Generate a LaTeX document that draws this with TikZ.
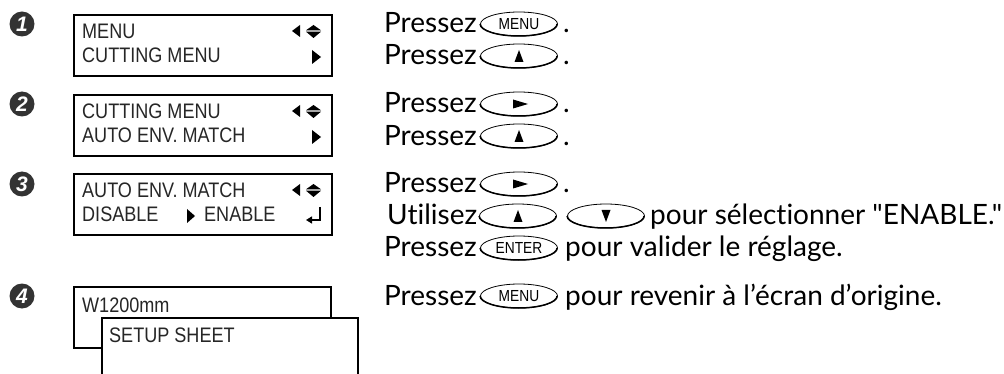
\documentclass[tikz,border=0pt]{standalone}
\usepackage{fontspec}
\newfontfamily\txtfont{Lato}[Ligatures={NoCommon}]
\newfontfamily\lcdfont[FakeStretch=0.86]{Liberation Sans}
\newfontfamily\numfont{Liberation Sans}
\usetikzlibrary{shapes.geometric, arrows.meta, positioning}

\begin{document}
\begin{tikzpicture}[
  x=1pt, y=1pt,
  lcd/.style={rectangle, draw, line width=2.2pt, fill=white, anchor=north west, minimum width=258pt, minimum height=61pt, inner sep=0pt},
  lcdtext/.style={anchor=base west, inner sep=0pt, text=black!85, font=\lcdfont\fontsize{21}{21}\selectfont},
  key/.style={ellipse, draw, line width=0.8pt, minimum width=77pt, minimum height=24pt, inner sep=0pt, font=\lcdfont\fontsize{16}{16}\selectfont},
  stepnum/.style={circle, fill=black!80, text=white, minimum size=25pt, inner sep=0pt, font=\numfont\bfseries\itshape\fontsize{21}{21}\selectfont},
  txt/.style={anchor=base west, inner sep=0pt, font=\txtfont\fontsize{28}{30}\selectfont},
  word/.style={txt, anchor=base east}
]
  \useasboundingbox (0,0) rectangle (1004,-374);

  % step numbers
  \node[stepnum] (n1) at (22,-24) {1};
  \node[stepnum] (n2) at (22,-104) {2};
  \node[stepnum] (n3) at (22,-184) {3};
  \node[stepnum] (n4) at (22,-296) {4};

  % display screens
  \node[lcd] (lcd1) at (73,-14) {};
  \node[lcdtext] (l1a) at (82,-39) {MENU};
  \node[lcdtext] (l1b) at (82,-63) {CUTTING MENU};
  \node[lcd] (lcd2) at (73,-94) {};
  \node[lcdtext] (l2a) at (82,-119) {CUTTING MENU};
  \node[lcdtext] (l2b) at (82,-143) {AUTO ENV. MATCH};
  \node[lcd] (lcd3) at (73,-173) {};
  \node[lcdtext] (l3a) at (82,-198) {AUTO ENV. MATCH};
  \node[lcdtext] (l3b) at (82,-222) {DISABLE};
  \node[lcdtext] (l3c) at (204,-222) {ENABLE};
  \node[lcd, minimum width=257pt] (lcd4) at (73,-286) {};
  \node[lcdtext] (l4a) at (82,-312) {W1200mm};
  \fill[white] (102,-318) rectangle (358,-374);
  \draw[line width=2.2pt] (102,-374) |- (358,-318) -- (358,-374);
  \node[lcdtext] (l4b) at (109,-342) {SETUP SHEET};

  % screen marks
  \foreach \t in {14,94,173} {
    \fill (292,-\t-17) -- (300,-\t-11) -- (300,-\t-23) -- cycle;
    \fill (313.5,-\t-11) -- (321,-\t-16.3) -- (306,-\t-16.3) -- cycle;
    \fill (306,-\t-17.7) -- (321,-\t-17.7) -- (313.5,-\t-24) -- cycle;
  }
  \foreach \t in {14,94}
    \fill (312,-\t-36) -- (321,-\t-43) -- (312,-\t-50) -- cycle;
  \fill (187,-209) -- (195,-216) -- (187,-223) -- cycle;
  \draw[line width=1.3pt, -{Triangle[length=6pt,width=7pt]}] (320,-207) |- (306,-220);

  % instructions
  \node[word] (p1) at (477,-33) {Pressez};
  \node[key] (k1) at (519,-24) {MENU};
  \node[txt] (d1) at (563,-33) {.};
  \node[word] (p2) at (477,-65) {Pressez};
  \node[key] (k2) at (519,-56) {};
  \node[txt] (d2) at (563,-65) {.};
  \node[word] (p3) at (477,-113) {Pressez};
  \node[key] (k3) at (519,-104) {};
  \node[txt] (d3) at (563,-113) {.};
  \node[word] (p4) at (477,-146) {Pressez};
  \node[key] (k4) at (519,-136) {};
  \node[txt] (d4) at (563,-146) {.};
  \node[word] (p5) at (477,-193) {Pressez};
  \node[key] (k5) at (519,-184) {};
  \node[txt] (d5) at (563,-193) {.};
  \node[txt] (p6) at (387,-225) {Utilisez};
  \node[key] (k6) at (518,-216) {};
  \node[key] (k6b) at (606,-216) {};
  \node[txt] (t6) at (650,-225) {pour sélectionner "ENABLE."};
  \node[word] (p7) at (477,-257) {Pressez};
  \node[key] (k7) at (519,-248) {ENTER};
  \node[txt] (t7) at (565,-257) {pour valider le réglage.};
  \node[word] (p8) at (477,-305) {Pressez};
  \node[key] (k8) at (519,-296) {MENU};
  \node[txt] (t8) at (565,-305) {pour revenir à l’écran d’origine.};

  % key shading and arrows
  \foreach \k in {k1,k2,k3,k4,k5,k6,k6b,k7,k8}
    \draw[line width=1.5pt] (\k.west) arc[start angle=180, end angle=360, x radius=38.5pt, y radius=12pt];
  \foreach \k in {k2,k4,k6}
    \fill ([shift={(-4.5,-6)}]\k.center) -- ++(9,0) -- ++(-4.5,12) -- cycle;
  \foreach \k in {k3,k5}
    \fill ([shift={(-6,-4.5)}]\k.center) -- ++(0,9) -- ++(15,-4.5) -- cycle;
  \fill ([shift={(-4.5,6)}]k6b.center) -- ++(9,0) -- ++(-4.5,-12) -- cycle;
\end{tikzpicture}
\end{document}
